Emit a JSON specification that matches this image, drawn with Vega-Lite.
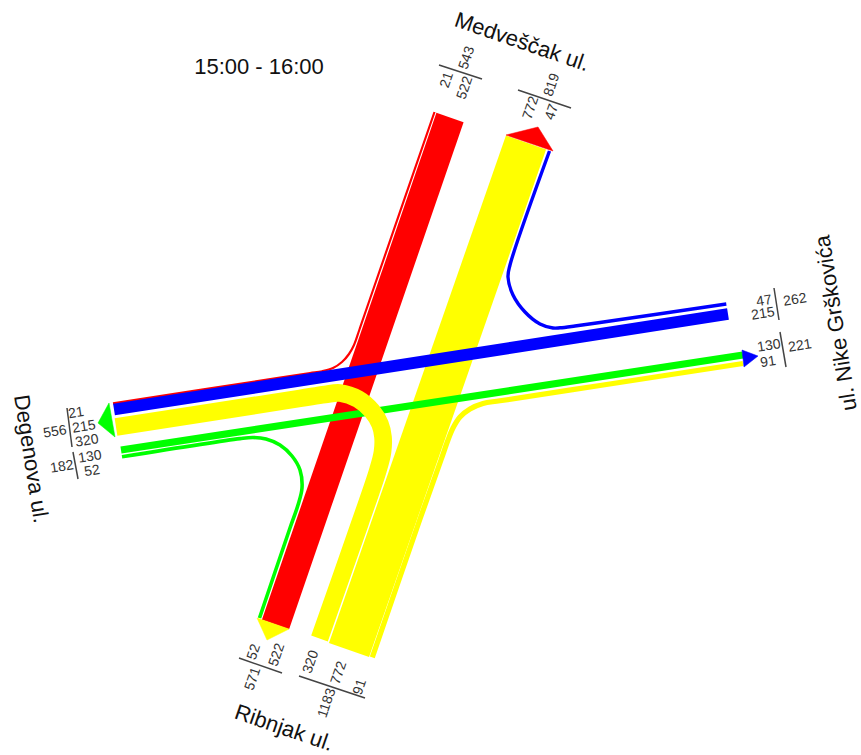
{"$schema":"https://vega.github.io/schema/vega-lite/v6.json","width":861,"height":755,"autosize":{"type":"none"},"padding":0,"background":"white","config":{"view":{"stroke":null}},
"datasets":{
"flows":[
{"flow":"M21","origin":"Medveščak","volume":21,"seq":0,"x":434.5,"y":112},{"flow":"M21","origin":"Medveščak","volume":21,"seq":1,"x":369.6,"y":300},{"flow":"M21","origin":"Medveščak","volume":21,"seq":2,"x":359.3,"y":330},{"flow":"M21","origin":"Medveščak","volume":21,"seq":3,"x":354,"y":345},{"flow":"M21","origin":"Medveščak","volume":21,"seq":4,"x":349,"y":354},{"flow":"M21","origin":"Medveščak","volume":21,"seq":5,"x":342,"y":362},{"flow":"M21","origin":"Medveščak","volume":21,"seq":6,"x":333,"y":368},{"flow":"M21","origin":"Medveščak","volume":21,"seq":7,"x":322,"y":371.2},{"flow":"M21","origin":"Medveščak","volume":21,"seq":8,"x":310,"y":373},{"flow":"M21","origin":"Medveščak","volume":21,"seq":9,"x":280,"y":377.6},{"flow":"M21","origin":"Medveščak","volume":21,"seq":10,"x":113,"y":403.4},
{"flow":"M522","origin":"Medveščak","volume":522,"seq":0,"x":450,"y":117.5},{"flow":"M522","origin":"Medveščak","volume":522,"seq":1,"x":275.5,"y":624.5},
{"flow":"R772","origin":"Ribnjak","volume":772,"seq":0,"x":349,"y":650},{"flow":"R772","origin":"Ribnjak","volume":772,"seq":1,"x":526,"y":142.5},
{"flow":"R91","origin":"Ribnjak","volume":91,"seq":0,"x":372.3,"y":657.3},{"flow":"R91","origin":"Ribnjak","volume":91,"seq":1,"x":420,"y":519},{"flow":"R91","origin":"Ribnjak","volume":91,"seq":2,"x":441,"y":460},{"flow":"R91","origin":"Ribnjak","volume":91,"seq":3,"x":448,"y":440},{"flow":"R91","origin":"Ribnjak","volume":91,"seq":4,"x":453,"y":428},{"flow":"R91","origin":"Ribnjak","volume":91,"seq":5,"x":460,"y":417},{"flow":"R91","origin":"Ribnjak","volume":91,"seq":6,"x":470,"y":409},{"flow":"R91","origin":"Ribnjak","volume":91,"seq":7,"x":483,"y":403.5},{"flow":"R91","origin":"Ribnjak","volume":91,"seq":8,"x":500,"y":400.8},{"flow":"R91","origin":"Ribnjak","volume":91,"seq":9,"x":600,"y":385.5},{"flow":"R91","origin":"Ribnjak","volume":91,"seq":10,"x":743,"y":363.5},
{"flow":"D130","origin":"Degenova","volume":130,"seq":0,"x":121,"y":450},{"flow":"D130","origin":"Degenova","volume":130,"seq":1,"x":743,"y":355},
{"flow":"D52","origin":"Degenova","volume":52,"seq":0,"x":122,"y":456.8},{"flow":"D52","origin":"Degenova","volume":52,"seq":1,"x":240,"y":438.6},{"flow":"D52","origin":"Degenova","volume":52,"seq":2,"x":253,"y":437.5},{"flow":"D52","origin":"Degenova","volume":52,"seq":3,"x":266,"y":439},{"flow":"D52","origin":"Degenova","volume":52,"seq":4,"x":280,"y":445},{"flow":"D52","origin":"Degenova","volume":52,"seq":5,"x":292,"y":456},{"flow":"D52","origin":"Degenova","volume":52,"seq":6,"x":300,"y":470},{"flow":"D52","origin":"Degenova","volume":52,"seq":7,"x":302,"y":488},{"flow":"D52","origin":"Degenova","volume":52,"seq":8,"x":298,"y":505},{"flow":"D52","origin":"Degenova","volume":52,"seq":9,"x":290,"y":528},{"flow":"D52","origin":"Degenova","volume":52,"seq":10,"x":259.5,"y":618},
{"flow":"N47","origin":"Nike","volume":47,"seq":0,"x":726.3,"y":304},{"flow":"N47","origin":"Nike","volume":47,"seq":1,"x":600,"y":322.5},{"flow":"N47","origin":"Nike","volume":47,"seq":2,"x":575,"y":326},{"flow":"N47","origin":"Nike","volume":47,"seq":3,"x":560,"y":327.8},{"flow":"N47","origin":"Nike","volume":47,"seq":4,"x":553,"y":328},{"flow":"N47","origin":"Nike","volume":47,"seq":5,"x":540,"y":324},{"flow":"N47","origin":"Nike","volume":47,"seq":6,"x":525,"y":312},{"flow":"N47","origin":"Nike","volume":47,"seq":7,"x":513,"y":295},{"flow":"N47","origin":"Nike","volume":47,"seq":8,"x":508,"y":277},{"flow":"N47","origin":"Nike","volume":47,"seq":9,"x":510,"y":265},{"flow":"N47","origin":"Nike","volume":47,"seq":10,"x":549.5,"y":151},
{"flow":"N215","origin":"Nike","volume":215,"seq":0,"x":728,"y":314},{"flow":"N215","origin":"Nike","volume":215,"seq":1,"x":114,"y":409.5},
{"flow":"R320","origin":"Ribnjak","volume":320,"seq":0,"x":319.5,"y":638.5},{"flow":"R320","origin":"Ribnjak","volume":320,"seq":1,"x":360,"y":523},{"flow":"R320","origin":"Ribnjak","volume":320,"seq":2,"x":378,"y":470},{"flow":"R320","origin":"Ribnjak","volume":320,"seq":3,"x":382.5,"y":452},{"flow":"R320","origin":"Ribnjak","volume":320,"seq":4,"x":383,"y":437},{"flow":"R320","origin":"Ribnjak","volume":320,"seq":5,"x":380,"y":424},{"flow":"R320","origin":"Ribnjak","volume":320,"seq":6,"x":372,"y":411},{"flow":"R320","origin":"Ribnjak","volume":320,"seq":7,"x":358,"y":399},{"flow":"R320","origin":"Ribnjak","volume":320,"seq":8,"x":340,"y":393},{"flow":"R320","origin":"Ribnjak","volume":320,"seq":9,"x":325,"y":394.5},{"flow":"R320","origin":"Ribnjak","volume":320,"seq":10,"x":300,"y":398.4},{"flow":"R320","origin":"Ribnjak","volume":320,"seq":11,"x":116,"y":427}
],
"heads":[
{"head":"top","origin":"Medveščak","seq":0,"x":506,"y":135},{"head":"top","origin":"Medveščak","seq":1,"x":538,"y":127},{"head":"top","origin":"Medveščak","seq":2,"x":553,"y":151},
{"head":"left","origin":"Degenova","seq":0,"x":109,"y":403},{"head":"left","origin":"Degenova","seq":1,"x":98,"y":423},{"head":"left","origin":"Degenova","seq":2,"x":115,"y":437},
{"head":"bottom","origin":"Ribnjak","seq":0,"x":257,"y":618},{"head":"bottom","origin":"Ribnjak","seq":1,"x":289,"y":629},{"head":"bottom","origin":"Ribnjak","seq":2,"x":267,"y":640},
{"head":"right","origin":"Nike","seq":0,"x":742,"y":350},{"head":"right","origin":"Nike","seq":1,"x":758,"y":356},{"head":"right","origin":"Nike","seq":2,"x":744,"y":367}
],
"ticks":[
{"t":"a","x":439,"y":65,"x2":482,"y2":79},{"t":"b","x":518,"y":90,"x2":571,"y2":108},
{"t":"c","x":67,"y":408,"x2":72,"y2":447},{"t":"d","x":73,"y":452,"x2":78,"y2":479},
{"t":"e","x":774,"y":288,"x2":779,"y2":320},{"t":"f","x":780,"y":332,"x2":786,"y2":367},
{"t":"g","x":239,"y":658,"x2":282,"y2":673},{"t":"h","x":299,"y":676,"x2":365,"y2":698}
],
"numbers":[
{"axis":"vertical","label":"21","x":447,"y":80},{"axis":"vertical","label":"522","x":465,"y":88},{"axis":"vertical","label":"543","x":467,"y":58},{"axis":"vertical","label":"772","x":531,"y":108},{"axis":"vertical","label":"819","x":552,"y":85},{"axis":"vertical","label":"47","x":552,"y":112},
{"axis":"horizontal","label":"21","x":76,"y":413},{"axis":"horizontal","label":"215","x":84,"y":427},{"axis":"horizontal","label":"320","x":87,"y":441},{"axis":"horizontal","label":"556","x":55,"y":432},{"axis":"horizontal","label":"130","x":90,"y":457},{"axis":"horizontal","label":"52","x":92,"y":471},{"axis":"horizontal","label":"182","x":62,"y":467},
{"axis":"horizontal","label":"47","x":764,"y":301},{"axis":"horizontal","label":"215","x":763,"y":314},{"axis":"horizontal","label":"262","x":795,"y":300},{"axis":"horizontal","label":"130","x":769,"y":346},{"axis":"horizontal","label":"91","x":768,"y":362},{"axis":"horizontal","label":"221","x":800,"y":346},
{"axis":"vertical","label":"52","x":254,"y":652},{"axis":"vertical","label":"522","x":277,"y":655},{"axis":"vertical","label":"571","x":253,"y":679},{"axis":"vertical","label":"320","x":311,"y":662},{"axis":"vertical","label":"772","x":339,"y":673},{"axis":"vertical","label":"91","x":360,"y":687},{"axis":"vertical","label":"1183","x":327,"y":703}
],
"titles":[
{"road":"Medveščak","label":"Medveščak ul.","x":522,"y":42},{"road":"Ribnjak","label":"Ribnjak ul.","x":284,"y":728},{"road":"Degenova","label":"Degenova ul.","x":31,"y":459},{"road":"Nike","label":"ul. Nike Grškovića","x":836,"y":323},{"road":"Time","label":"15:00 - 16:00","x":259,"y":67}
]},
"encoding":{
"x":{"field":"x","type":"quantitative","scale":{"domain":[0,861],"nice":false,"zero":false},"axis":null},
"y":{"field":"y","type":"quantitative","scale":{"domain":[755,0],"nice":false,"zero":false},"axis":null}
},
"layer":[
{"data":{"name":"flows"},"mark":{"type":"line","interpolate":"catmull-rom","strokeCap":"butt","strokeJoin":"round"},
"encoding":{"detail":{"field":"flow"},"order":{"field":"seq","type":"quantitative"},
"color":{"field":"origin","type":"nominal","legend":null,"scale":{"domain":["Medveščak","Ribnjak","Degenova","Nike"],"range":["#ff0000","#ffff00","#00ff00","#0000ff"]}},
"size":{"field":"volume","type":"quantitative","legend":null,"scale":{"type":"linear","domain":[0,47,91,130,1000],"range":[1.2,3.4,5.2,7.2,55]}}}},
{"data":{"name":"heads"},"mark":{"type":"line","interpolate":"linear-closed","strokeWidth":0.5},
"encoding":{"detail":{"field":"head"},"order":{"field":"seq","type":"quantitative"},
"fill":{"field":"origin","type":"nominal","legend":null,"scale":{"domain":["Medveščak","Ribnjak","Degenova","Nike"],"range":["#ff0000","#ffff00","#00ff00","#0000ff"]}},
"stroke":{"field":"origin","type":"nominal","legend":null,"scale":{"domain":["Medveščak","Ribnjak","Degenova","Nike"],"range":["#ff0000","#ffff00","#00ff00","#0000ff"]}}}},
{"data":{"name":"ticks"},"mark":{"type":"rule","color":"#444444","strokeWidth":1.5},
"encoding":{"x2":{"field":"x2"},"y2":{"field":"y2"}}},
{"data":{"name":"numbers"},"transform":[{"filter":"datum.axis==='vertical'"}],"mark":{"type":"text","font":"Liberation Sans","fontSize":14,"color":"#333333","align":"center","baseline":"middle","angle":289},"encoding":{"text":{"field":"label"}}},
{"data":{"name":"numbers"},"transform":[{"filter":"datum.axis==='horizontal'"}],"mark":{"type":"text","font":"Liberation Sans","fontSize":14,"color":"#333333","align":"center","baseline":"middle","angle":351},"encoding":{"text":{"field":"label"}}},
{"data":{"name":"titles"},"transform":[{"filter":"datum.road==='Medveščak'||datum.road==='Ribnjak'"}],"mark":{"type":"text","font":"Liberation Sans","fontSize":22,"color":"#111111","align":"center","baseline":"middle","angle":19},"encoding":{"text":{"field":"label"}}},
{"data":{"name":"titles"},"transform":[{"filter":"datum.road==='Degenova'"}],"mark":{"type":"text","font":"Liberation Sans","fontSize":22,"color":"#111111","align":"center","baseline":"middle","angle":81},"encoding":{"text":{"field":"label"}}},
{"data":{"name":"titles"},"transform":[{"filter":"datum.road==='Nike'"}],"mark":{"type":"text","font":"Liberation Sans","fontSize":22,"color":"#111111","align":"center","baseline":"middle","angle":261},"encoding":{"text":{"field":"label"}}},
{"data":{"name":"titles"},"transform":[{"filter":"datum.road==='Time'"}],"mark":{"type":"text","font":"Liberation Sans","fontSize":22,"color":"#111111","align":"center","baseline":"middle","angle":0},"encoding":{"text":{"field":"label"}}}
]}
